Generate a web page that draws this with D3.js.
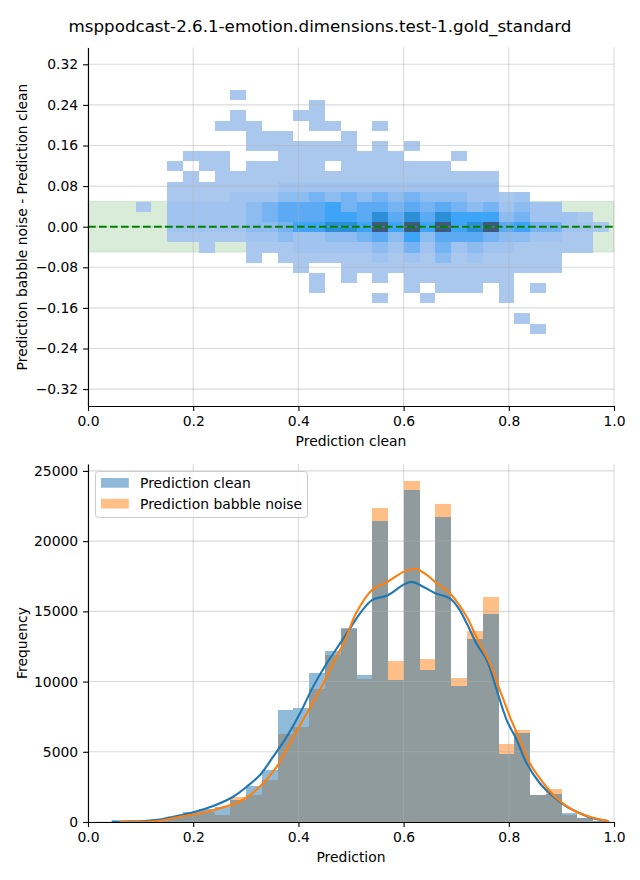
<!DOCTYPE html>
<html>
<head>
<meta charset="utf-8">
<script src="https://cdn.jsdelivr.net/npm/d3@7"></script>
<style>
  body { margin: 0; background: #fff; }
  text { font-family: "DejaVu Sans", sans-serif; }
</style>
</head>
<body>
<svg id="chart" width="640" height="880"></svg>
<script>
// ---- data ----
var chartTitle = "msppodcast-2.6.1-emotion.dimensions.test-1.gold_standard";

// shared bin edges on the prediction axis
var xEdges = [0.0305, 0.0605, 0.0905, 0.1205, 0.1505, 0.1805, 0.2105, 0.2405, 0.2705, 0.3005, 0.3305,
  0.3605, 0.3905, 0.4205, 0.4505, 0.4805, 0.5105, 0.5405, 0.5705, 0.6005, 0.6305, 0.6605, 0.6905,
  0.7205, 0.7505, 0.7805, 0.8105, 0.8405, 0.8705, 0.9005, 0.9305, 0.9605, 0.9905];

// bin edges on the difference axis (heatmap rows)
var yEdges = [-0.211, -0.191, -0.171, -0.151, -0.131, -0.111, -0.091, -0.071, -0.051, -0.031, -0.011,
  0.009, 0.029, 0.049, 0.069, 0.089, 0.109, 0.129, 0.149, 0.169, 0.189, 0.209, 0.229, 0.249, 0.269];

// 2d histogram, one string per row from the top row down; '.' = empty, 1..8 = density level
var heatRows = [
  "........1.......................",
  ".............1..................",
  "........1...11..................",
  ".......111...11..1..............",
  ".........111...1................",
  ".........1111111.1.1............",
  ".....111...11111111...1.........",
  "....1.11.11111.1111111..........",
  ".....1.111111111111111111.......",
  "....111111122222222222222.......",
  "....11112223343434343332212.....",
  "..1.2222234555645545454342322...",
  "....222223455566575757666342221.",
  "....2222233466776868686785644221",
  "....111112232233453635554332211.",
  "......1..1112222232424232211111.",
  ".........1.111111212131211111...",
  "............1..11111111111111...",
  ".............1.1.1.1111111......",
  ".............1.....1.111.1.1....",
  ".................1..1....1......",
  "................................",
  "..........................1.....",
  "...........................1...."
];

var diffTicks = [-0.32, -0.24, -0.16, -0.08, 0, 0.08, 0.16, 0.24, 0.32];
var xTicks = [0, 0.2, 0.4, 0.6, 0.8, 1.0];
var freqTicks = [0, 5000, 10000, 15000, 20000, 25000];
var tolerance = [-0.05, 0.05];

// histogram counts per bin
var countClean = [10, 30, 60, 150, 350, 690, 900, 1050, 1600, 2560, 3700, 7980, 8100, 10610, 12180, 13850,
  10470, 21440, 10110, 23650, 10830, 21720, 9680, 13030, 14810, 4840, 6360, 1900, 1990, 640, 300, 100];
var countBabble = [5, 20, 40, 100, 250, 480, 720, 480, 1750, 1920, 2990, 6270, 6790, 9500, 11900, 13750,
  10185, 22360, 11470, 24290, 11600, 22650, 10250, 13600, 16030, 5560, 6550, 1950, 2350, 520, 280, 90];

// kde curves, [prediction, frequency]
var kdeClean = [[0.045, 30], [0.08, 50], [0.112, 90], [0.14, 200], [0.162, 380], [0.2, 690], [0.238, 1140],
  [0.276, 1800], [0.302, 2520], [0.327, 3350], [0.352, 4650], [0.378, 6080], [0.403, 7740], [0.428, 9640],
  [0.454, 11300], [0.479, 12700], [0.5, 13900], [0.52, 15000], [0.54, 15800], [0.57, 16150], [0.6, 16900],
  [0.615, 17100], [0.631, 16880], [0.66, 16290], [0.688, 15930], [0.705, 15200], [0.72, 14150], [0.74, 12600],
  [0.758, 11540], [0.777, 9400], [0.796, 7260], [0.815, 5840], [0.834, 4180], [0.859, 2760], [0.885, 1800],
  [0.91, 1090], [0.935, 620], [0.96, 260], [0.99, 60]];
var kdeBabble = [[0.06, 10], [0.1, 20], [0.13, 50], [0.175, 380], [0.213, 620], [0.251, 980], [0.283, 1370],
  [0.308, 1920], [0.333, 2760], [0.359, 3940], [0.384, 5610], [0.416, 7740], [0.441, 9400], [0.466, 11300],
  [0.489, 12960], [0.5095, 14860], [0.54, 16520], [0.57, 17110], [0.601, 17830], [0.625, 18000],
  [0.644, 17590], [0.663, 17000], [0.688, 16290], [0.72, 14620], [0.738, 13200], [0.764, 11300],
  [0.783, 9400], [0.802, 7500], [0.821, 5840], [0.84, 4180], [0.866, 2760], [0.891, 1690], [0.922, 855],
  [0.954, 380], [0.99, 60]];

var seriesNames = ["Prediction clean", "Prediction babble noise"];

// ---- drawing ----
var FONT = 13.9;
var C0 = "#1f77b4", C1 = "#ff7f0e";
var levelColor = d3.scaleLinear()
  .domain([1, 2, 3, 4, 5, 6, 7, 8])
  .range(["#aac8ee", "#a0c3ef", "#8dbcf0", "#76b3f2", "#5ca9f4", "#3ea4f8", "#2b8fd8", "#3d5a7c"]);

var svg = d3.select("#chart");

svg.append("text")
  .attr("x", 320).attr("y", 32)
  .attr("text-anchor", "middle")
  .attr("font-size", "16.7px")
  .text(chartTitle);

function styleAxis(g) {
  g.attr("font-family", "DejaVu Sans").attr("font-size", FONT + "px");
  g.selectAll("path.domain").attr("stroke", "#000").attr("stroke-width", 1.1);
  g.selectAll(".tick line").attr("stroke", "#000").attr("stroke-width", 1.1);
  g.selectAll(".tick text").attr("fill", "#000");
}

function grid(g, xs, ys, xv, yv) {
  var gg = g.append("g").attr("stroke", "#b0b0b0").attr("stroke-opacity", 0.45).attr("stroke-width", 1.1);
  gg.selectAll("line.gx").data(xv).enter().append("line")
    .attr("x1", function (d) { return xs(d); }).attr("x2", function (d) { return xs(d); })
    .attr("y1", ys.range()[0]).attr("y2", ys.range()[1]);
  gg.selectAll("line.gy").data(yv).enter().append("line")
    .attr("y1", function (d) { return ys(d); }).attr("y2", function (d) { return ys(d); })
    .attr("x1", xs.range()[0]).attr("x2", xs.range()[1]);
}

// top panel: difference heatmap
var xs1 = d3.scaleLinear().domain([0, 1]).range([88, 614]);
var ys1 = d3.scaleLinear().domain([-0.3533, 0.3533]).range([406, 47.4]);
var panelTop = svg.append("g");

panelTop.append("rect")
  .attr("x", xs1(0)).attr("width", xs1(1) - xs1(0))
  .attr("y", ys1(tolerance[1])).attr("height", ys1(tolerance[0]) - ys1(tolerance[1]))
  .attr("fill", "#008000").attr("fill-opacity", 0.15)
  .attr("stroke", "#008000").attr("stroke-opacity", 0.12);

var cells = [];
heatRows.forEach(function (row, r) {
  var j = heatRows.length - 1 - r;
  row.split("").forEach(function (c, k) {
    if (c !== ".") cells.push({ k: k, j: j, level: +c });
  });
});

panelTop.append("g").selectAll("rect").data(cells).enter().append("rect")
  .attr("x", function (d) { return xs1(xEdges[d.k]); })
  .attr("width", function (d) { return xs1(xEdges[d.k + 1]) - xs1(xEdges[d.k]); })
  .attr("y", function (d) { return ys1(yEdges[d.j + 1]); })
  .attr("height", function (d) { return ys1(yEdges[d.j]) - ys1(yEdges[d.j + 1]); })
  .attr("fill", function (d) { return levelColor(d.level); })
  .attr("shape-rendering", "crispEdges");

grid(panelTop, xs1, ys1, xTicks, diffTicks);

panelTop.append("line")
  .attr("x1", xs1(0)).attr("x2", xs1(1))
  .attr("y1", ys1(0)).attr("y2", ys1(0))
  .attr("stroke", "#008000").attr("stroke-width", 2.1)
  .attr("stroke-dasharray", "7.7,3.3");

panelTop.append("g").attr("transform", "translate(0," + ys1.range()[0] + ")")
  .call(d3.axisBottom(xs1).tickValues(xTicks).tickFormat(d3.format(".1f")).tickSize(4.9).tickPadding(4.9).tickSizeOuter(0))
  .call(styleAxis);
panelTop.append("g").attr("transform", "translate(" + xs1.range()[0] + ",0)")
  .call(d3.axisLeft(ys1).tickValues(diffTicks).tickFormat(d3.format(".2f")).tickSize(4.9).tickPadding(4.9).tickSizeOuter(0))
  .call(styleAxis);

panelTop.append("text").attr("x", 351).attr("y", 446).attr("text-anchor", "middle")
  .attr("font-size", FONT + "px").text("Prediction clean");
panelTop.append("text").attr("transform", "translate(27,227) rotate(-90)").attr("text-anchor", "middle")
  .attr("font-size", FONT + "px").text("Prediction babble noise - Prediction clean");

// bottom panel: histograms + kde
var xs2 = d3.scaleLinear().domain([0, 1]).range([88, 614]);
var ys2 = d3.scaleLinear().domain([0, 25500]).range([822, 463.9]);
var panelBot = svg.append("g");

function bars(counts, color) {
  panelBot.append("g").selectAll("rect").data(counts).enter().append("rect")
    .attr("x", function (d, i) { return xs2(xEdges[i]); })
    .attr("width", function (d, i) { return xs2(xEdges[i + 1]) - xs2(xEdges[i]); })
    .attr("y", function (d) { return ys2(d); })
    .attr("height", function (d) { return ys2(0) - ys2(d); })
    .attr("fill", color).attr("fill-opacity", 0.5)
    .attr("shape-rendering", "crispEdges");
}
bars(countBabble, C1);
bars(countClean, C0);

grid(panelBot, xs2, ys2, xTicks, freqTicks);

var kdeLine = d3.line()
  .x(function (d) { return xs2(d[0]); })
  .y(function (d) { return ys2(d[1]); })
  .curve(d3.curveCatmullRom);
panelBot.append("path").attr("d", kdeLine(kdeClean)).attr("fill", "none").attr("stroke", C0).attr("stroke-width", 2.1);
panelBot.append("path").attr("d", kdeLine(kdeBabble)).attr("fill", "none").attr("stroke", C1).attr("stroke-width", 2.1);

panelBot.append("g").attr("transform", "translate(0," + ys2.range()[0] + ")")
  .call(d3.axisBottom(xs2).tickValues(xTicks).tickFormat(d3.format(".1f")).tickSize(4.9).tickPadding(4.9).tickSizeOuter(0))
  .call(styleAxis);
panelBot.append("g").attr("transform", "translate(" + xs2.range()[0] + ",0)")
  .call(d3.axisLeft(ys2).tickValues(freqTicks).tickFormat(d3.format("d")).tickSize(4.9).tickPadding(4.9).tickSizeOuter(0))
  .call(styleAxis);

panelBot.append("text").attr("x", 351).attr("y", 862).attr("text-anchor", "middle")
  .attr("font-size", FONT + "px").text("Prediction");
panelBot.append("text").attr("transform", "translate(27,643) rotate(-90)").attr("text-anchor", "middle")
  .attr("font-size", FONT + "px").text("Frequency");

// legend
var leg = panelBot.append("g");
leg.append("rect").attr("x", 95.5).attr("y", 471.5).attr("width", 212).attr("height", 46).attr("rx", 3)
  .attr("fill", "#fff").attr("fill-opacity", 0.8).attr("stroke", "#cccccc");
[C0, C1].forEach(function (c, i) {
  leg.append("rect").attr("x", 101).attr("y", 478 + i * 20.8).attr("width", 27.8).attr("height", 9.7)
    .attr("fill", c).attr("fill-opacity", 0.5);
  leg.append("text").attr("x", 140).attr("y", 488 + i * 20.8)
    .attr("font-size", FONT + "px").text(seriesNames[i]);
});
</script>
</body>
</html>
